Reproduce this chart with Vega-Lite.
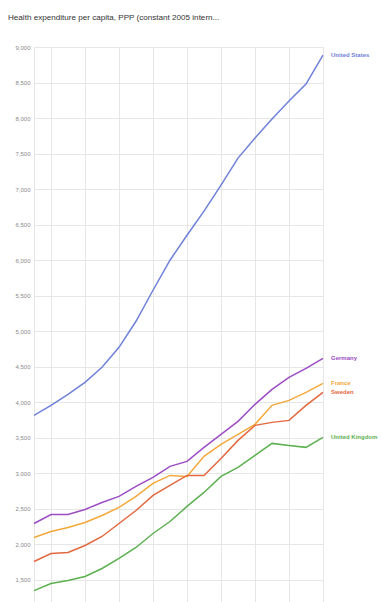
{
  "$schema": "https://vega.github.io/schema/vega-lite/v6.json",
  "autosize": {"type": "none"},
  "width": 289,
  "height": 568,
  "padding": {"left": 34, "top": 47, "right": 59, "bottom": 0},
  "background": "white",
  "title": {
    "text": "Health expenditure per capita, PPP (constant 2005 intern...",
    "anchor": "start",
    "frame": "group",
    "orient": "top",
    "offset": 22,
    "dx": -26,
    "fontSize": 8.1,
    "font": "Arial, Liberation Sans, sans-serif",
    "fontWeight": "normal",
    "color": "#333333"
  },
  "config": {
    "view": {"stroke": null},
    "font": "Arial, Liberation Sans, sans-serif"
  },
  "data": {
    "values": [
      {"country": "United States", "year": 1995, "value": 3812},
      {"country": "United States", "year": 1996, "value": 3953},
      {"country": "United States", "year": 1997, "value": 4108},
      {"country": "United States", "year": 1998, "value": 4277},
      {"country": "United States", "year": 1999, "value": 4490},
      {"country": "United States", "year": 2000, "value": 4770},
      {"country": "United States", "year": 2001, "value": 5137},
      {"country": "United States", "year": 2002, "value": 5574},
      {"country": "United States", "year": 2003, "value": 5997},
      {"country": "United States", "year": 2004, "value": 6349},
      {"country": "United States", "year": 2005, "value": 6688},
      {"country": "United States", "year": 2006, "value": 7054},
      {"country": "United States", "year": 2007, "value": 7435},
      {"country": "United States", "year": 2008, "value": 7717},
      {"country": "United States", "year": 2009, "value": 7985},
      {"country": "United States", "year": 2010, "value": 8239},
      {"country": "United States", "year": 2011, "value": 8478},
      {"country": "United States", "year": 2012, "value": 8887},

      {"country": "Germany", "year": 1995, "value": 2289},
      {"country": "Germany", "year": 1996, "value": 2416},
      {"country": "Germany", "year": 1997, "value": 2416},
      {"country": "Germany", "year": 1998, "value": 2487},
      {"country": "Germany", "year": 1999, "value": 2585},
      {"country": "Germany", "year": 2000, "value": 2670},
      {"country": "Germany", "year": 2001, "value": 2811},
      {"country": "Germany", "year": 2002, "value": 2938},
      {"country": "Germany", "year": 2003, "value": 3093},
      {"country": "Germany", "year": 2004, "value": 3163},
      {"country": "Germany", "year": 2005, "value": 3360},
      {"country": "Germany", "year": 2006, "value": 3544},
      {"country": "Germany", "year": 2007, "value": 3727},
      {"country": "Germany", "year": 2008, "value": 3967},
      {"country": "Germany", "year": 2009, "value": 4178},
      {"country": "Germany", "year": 2010, "value": 4347},
      {"country": "Germany", "year": 2011, "value": 4474},
      {"country": "Germany", "year": 2012, "value": 4615},

      {"country": "France", "year": 1995, "value": 2092},
      {"country": "France", "year": 1996, "value": 2176},
      {"country": "France", "year": 1997, "value": 2233},
      {"country": "France", "year": 1998, "value": 2303},
      {"country": "France", "year": 1999, "value": 2402},
      {"country": "France", "year": 2000, "value": 2515},
      {"country": "France", "year": 2001, "value": 2670},
      {"country": "France", "year": 2002, "value": 2853},
      {"country": "France", "year": 2003, "value": 2966},
      {"country": "France", "year": 2004, "value": 2952},
      {"country": "France", "year": 2005, "value": 3234},
      {"country": "France", "year": 2006, "value": 3403},
      {"country": "France", "year": 2007, "value": 3544},
      {"country": "France", "year": 2008, "value": 3685},
      {"country": "France", "year": 2009, "value": 3953},
      {"country": "France", "year": 2010, "value": 4023},
      {"country": "France", "year": 2011, "value": 4136},
      {"country": "France", "year": 2012, "value": 4263},

      {"country": "Sweden", "year": 1995, "value": 1753},
      {"country": "Sweden", "year": 1996, "value": 1866},
      {"country": "Sweden", "year": 1997, "value": 1880},
      {"country": "Sweden", "year": 1998, "value": 1979},
      {"country": "Sweden", "year": 1999, "value": 2106},
      {"country": "Sweden", "year": 2000, "value": 2289},
      {"country": "Sweden", "year": 2001, "value": 2472},
      {"country": "Sweden", "year": 2002, "value": 2684},
      {"country": "Sweden", "year": 2003, "value": 2825},
      {"country": "Sweden", "year": 2004, "value": 2966},
      {"country": "Sweden", "year": 2005, "value": 2966},
      {"country": "Sweden", "year": 2006, "value": 3205},
      {"country": "Sweden", "year": 2007, "value": 3459},
      {"country": "Sweden", "year": 2008, "value": 3671},
      {"country": "Sweden", "year": 2009, "value": 3713},
      {"country": "Sweden", "year": 2010, "value": 3741},
      {"country": "Sweden", "year": 2011, "value": 3953},
      {"country": "Sweden", "year": 2012, "value": 4136},

      {"country": "United Kingdom", "year": 1995, "value": 1344},
      {"country": "United Kingdom", "year": 1996, "value": 1443},
      {"country": "United Kingdom", "year": 1997, "value": 1486},
      {"country": "United Kingdom", "year": 1998, "value": 1542},
      {"country": "United Kingdom", "year": 1999, "value": 1655},
      {"country": "United Kingdom", "year": 2000, "value": 1796},
      {"country": "United Kingdom", "year": 2001, "value": 1951},
      {"country": "United Kingdom", "year": 2002, "value": 2148},
      {"country": "United Kingdom", "year": 2003, "value": 2317},
      {"country": "United Kingdom", "year": 2004, "value": 2529},
      {"country": "United Kingdom", "year": 2005, "value": 2726},
      {"country": "United Kingdom", "year": 2006, "value": 2952},
      {"country": "United Kingdom", "year": 2007, "value": 3079},
      {"country": "United Kingdom", "year": 2008, "value": 3248},
      {"country": "United Kingdom", "year": 2009, "value": 3417},
      {"country": "United Kingdom", "year": 2010, "value": 3389},
      {"country": "United Kingdom", "year": 2011, "value": 3361},
      {"country": "United Kingdom", "year": 2012, "value": 3502}
    ]
  },
  "encoding": {
    "x": {
      "field": "year",
      "type": "quantitative",
      "scale": {"domain": [1995, 2012], "nice": false, "zero": false},
      "axis": {
        "title": null,
        "labels": false,
        "ticks": false,
        "domain": false,
        "grid": true,
        "values": [1995, 1996, 1998, 2000, 2002, 2004, 2006, 2008, 2010, 2012],
        "gridColor": "#e6e6e6",
        "gridWidth": 1
      }
    },
    "y": {
      "field": "value",
      "type": "quantitative",
      "scale": {"domain": [1000, 9000], "nice": false, "zero": false},
      "axis": {
        "title": null,
        "values": [1500, 2000, 2500, 3000, 3500, 4000, 4500, 5000, 5500, 6000, 6500, 7000, 7500, 8000, 8500, 9000],
        "format": ",d",
        "ticks": false,
        "domain": false,
        "labelFontSize": 6,
        "labelColor": "#8a8a8a",
        "labelPadding": 4,
        "gridColor": "#e6e6e6",
        "gridWidth": 1
      }
    },
    "color": {
      "field": "country",
      "type": "nominal",
      "legend": null,
      "scale": {
        "domain": ["United States", "Germany", "France", "Sweden", "United Kingdom"],
        "range": ["#6f80da", "#9c4dc4", "#f4a83a", "#e2683f", "#5cb050"]
      }
    }
  },
  "layer": [
    {
      "mark": {"type": "line", "strokeWidth": 1.5, "interpolate": "linear"}
    },
    {
      "transform": [{"filter": "datum.year === 2012"}],
      "mark": {
        "type": "text",
        "align": "left",
        "baseline": "middle",
        "dx": 8,
        "fontSize": 6,
        "fontWeight": "bold"
      },
      "encoding": {
        "text": {"field": "country", "type": "nominal"}
      }
    }
  ]
}
